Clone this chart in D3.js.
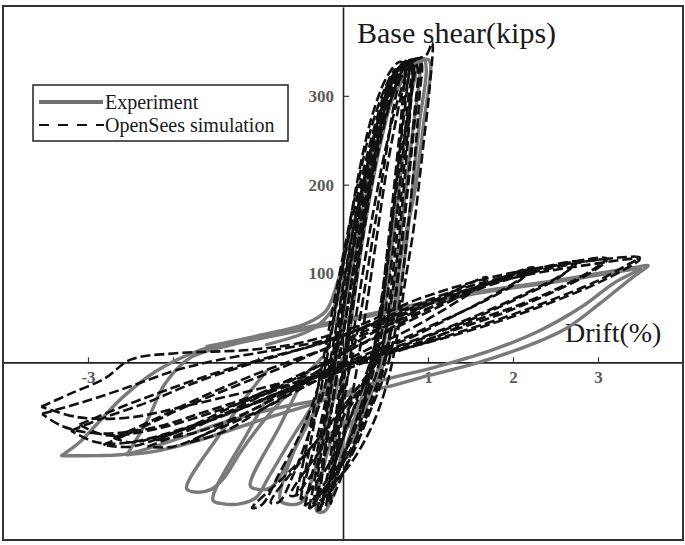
<!DOCTYPE html>
<html><head><meta charset="utf-8">
<script src="https://cdn.jsdelivr.net/npm/d3@7"></script>
<style>body{margin:0;background:#fff}svg{display:block}</style>
</head><body>
<svg id="c" width="685" height="545"></svg>
<script>
// ---- tick values / labels ----
const xTickValues = [-3, -2, -1, 1, 2, 3];
const xTickLabels = ["-3", "", "", "1", "2", "3"];
const yTickValues = [-100, 100, 200, 300];
const yTickLabels = ["", "100", "200", "300"];

// ---- Experiment (gray solid) : [drift %, base shear kips] ----
const expShallow1 = [[-3.31,-105],[-2.9,-105],[-2.54,-103],[-2.0,-88],[-1.45,-69],[-0.8,-52],[0.0,-38],[0.5,-28],[1.0,-15],[1.6,0],[2.24,21],[2.64,39],[3.02,66],[3.41,96],[3.59,109],[3.45,107],[3.0,100],[2.5,92],[1.5,78],[0.7,62],[0.0,48],[-0.4,40],[-1.0,28],[-1.7,13],[-2.2,-10],[-2.6,-40],[-2.9,-70],[-3.1,-90],[-3.31,-105]];
const expShallow2 = [[-2.54,-104],[-2.2,-100],[-1.6,-85],[-1.0,-66],[-0.3,-45],[0.4,-22],[1.1,-5],[1.7,12],[2.3,35],[2.8,62],[3.2,90],[3.5,106],[3.3,103],[2.6,92],[1.6,78],[0.7,60],[0.0,46],[-0.6,34],[-1.3,20],[-1.8,5],[-2.1,-25],[-2.3,-65],[-2.54,-104]];
const expFingerA = [[-0.9,-10],[-1.15,-40],[-1.42,-77],[-1.84,-142],[-1.74,-146],[-1.55,-143],[-1.4,-130],[-1.2,-100],[-0.9,-62],[-0.55,-25],[-0.25,5]];
const expFingerB = [[-0.8,-25],[-1.12,-79],[-1.53,-155],[-1.42,-159],[-1.2,-159],[-1.02,-152],[-0.88,-130],[-0.6,-85],[-0.3,-40],[-0.05,0]];
const expFingerC = [[-0.5,-25],[-0.74,-71],[-1.09,-139],[-1.0,-143],[-0.85,-141],[-0.72,-125],[-0.5,-85],[-0.25,-40],[0.0,5]];
const expFingerD = [[-0.4,-60],[-0.74,-155],[-0.62,-160],[-0.48,-157],[-0.36,-130],[-0.2,-75],[-0.05,-20]];
const expFingerE = [[-0.12,-80],[-0.31,-167],[-0.22,-168],[-0.12,-150],[0.0,-90],[0.1,-30]];
const expSteep1 = [[-0.2,-150],[-0.1,-90],[0.0,-20],[0.1,50],[0.25,150],[0.45,250],[0.6,305],[0.72,330],[0.8,338],[0.86,336],[0.8,300],[0.7,230],[0.6,150],[0.5,70],[0.35,0],[0.15,-60],[-0.05,-120],[-0.2,-150]];
const expSteep2 = [[-1.6,18],[-1.0,30],[-0.45,43],[-0.2,58],[-0.08,85],[0.05,130],[0.3,215],[0.5,280],[0.7,322],[0.85,338],[0.95,342],[0.98,330],[0.9,270],[0.8,180],[0.7,100],[0.55,30],[0.4,-15],[0.1,-60],[-0.3,-90]];
const expSteep3 = [[-0.9,20],[-0.35,38],[-0.12,60],[0.0,90],[0.15,140],[0.35,220],[0.6,300],[0.85,335],[1.0,341],[1.03,336],[0.95,270],[0.84,190],[0.69,123],[0.6,60],[0.5,5],[0.3,-40],[0.0,-80]];
const expSteep4 = [[-0.3,-120],[-0.15,-40],[-0.02,40],[0.12,110],[0.3,200],[0.5,275],[0.68,320],[0.8,335],[0.9,338],[0.9,320],[0.82,260],[0.72,180],[0.62,100],[0.5,30],[0.35,-30],[0.1,-90]];

// ---- OpenSees simulation (black dashed) ----
const simSteep1 = [[-0.2,-162],[-0.12,-110],[-0.04,-40],[0.05,30],[0.2,130],[0.35,220],[0.5,290],[0.62,325],[0.72,338],[0.77,336],[0.72,290],[0.62,200],[0.52,110],[0.42,30],[0.27,-30],[0.07,-90],[-0.08,-130],[-0.2,-162]];
const simSteep2 = [[-0.3,-168],[-0.22,-110],[-0.1,-30],[0.0,30],[0.15,120],[0.3,210],[0.45,280],[0.6,322],[0.75,338],[0.82,341],[0.8,300],[0.72,220],[0.62,130],[0.52,50],[0.4,-10],[0.2,-60],[0.0,-110],[-0.15,-145],[-0.3,-168]];
const simSteep3 = [[-0.45,-162],[-0.35,-120],[-0.2,-50],[-0.08,20],[0.08,110],[0.25,200],[0.42,270],[0.6,318],[0.8,338],[0.9,342],[0.88,310],[0.8,230],[0.7,140],[0.6,60],[0.48,0],[0.3,-50],[0.08,-100],[-0.2,-140],[-0.45,-162]];
const simSteep4 = [[-0.3,-150],[-0.2,-90],[-0.08,-20],[0.05,60],[0.25,170],[0.45,260],[0.65,315],[0.85,340],[0.98,346],[1.05,360],[1.02,310],[0.94,240],[0.83,150],[0.73,90],[0.62,20],[0.5,-30],[0.3,-80],[0.0,-125],[-0.3,-150]];
const simSteep5 = [[0.3,-20],[-0.15,-70],[-0.6,-120],[-1.07,-164],[-0.95,-160],[-0.75,-125],[-0.5,-80],[-0.3,-30],[-0.15,30],[0.0,110],[0.2,200],[0.4,275],[0.55,318],[0.7,336]];
const simSteep6 = [[0.4,0],[0.0,-50],[-0.4,-100],[-0.85,-158],[-0.75,-157],[-0.6,-130],[-0.4,-80],[-0.22,-30],[-0.08,40],[0.08,130],[0.28,220],[0.45,285],[0.6,325],[0.75,340]];
const simSteep7 = [[0.45,10],[0.15,-40],[-0.2,-90],[-0.62,-150],[-0.52,-148],[-0.38,-110],[-0.22,-50],[-0.1,20],[0.05,110],[0.2,190],[0.38,265],[0.55,315],[0.7,335],[0.8,340],[0.82,330],[0.78,270],[0.7,180],[0.6,90],[0.45,10]];
const simSteep8 = [[-0.27,-167],[-0.17,-120],[-0.07,-50],[0.02,10],[0.12,80],[0.27,170],[0.4,240],[0.55,300],[0.68,330],[0.78,340],[0.75,305],[0.67,240],[0.57,150],[0.47,70],[0.35,10],[0.15,-45],[-0.05,-100],[-0.27,-167]];
const simSteep9 = [[-0.35,-160],[-0.26,-105],[-0.15,-35],[-0.04,30],[0.1,120],[0.27,215],[0.45,285],[0.62,325],[0.74,338],[0.8,336],[0.76,290],[0.68,210],[0.58,120],[0.47,40],[0.33,-20],[0.12,-75],[-0.1,-125],[-0.35,-160]];
const simSteep10 = [[-0.5,-155],[-0.4,-100],[-0.27,-35],[-0.14,30],[0.02,120],[0.18,210],[0.35,280],[0.52,322],[0.66,338],[0.72,336],[0.7,295],[0.62,215],[0.52,125],[0.42,45],[0.28,-15],[0.05,-70],[-0.2,-120],[-0.5,-155]];
const simSteep11 = [[-0.4,-165],[-0.3,-115],[-0.17,-40],[-0.05,30],[0.12,125],[0.32,225],[0.52,295],[0.7,330],[0.86,342],[0.92,338],[0.9,300],[0.83,215],[0.74,130],[0.64,50],[0.52,-5],[0.32,-55],[0.1,-105],[-0.15,-145],[-0.4,-165]];
const simSteep12 = [[-0.15,-160],[-0.08,-100],[0.0,-30],[0.1,50],[0.25,150],[0.42,240],[0.58,300],[0.72,332],[0.84,340],[0.88,330],[0.84,280],[0.76,200],[0.66,110],[0.56,35],[0.44,-20],[0.24,-70],[0.02,-120],[-0.15,-160]];
const simSteep13 = [[-0.3,-150],[-0.18,-80],[-0.05,0],[0.1,90],[0.28,190],[0.45,265],[0.6,312],[0.7,330],[0.74,326],[0.66,290],[0.52,220],[0.38,130],[0.24,40],[0.1,-40],[-0.08,-110],[-0.3,-150]];
const simSteep14 = [[-0.1,-120],[0.02,-40],[0.15,50],[0.32,150],[0.5,240],[0.66,300],[0.78,330],[0.84,334],[0.8,300],[0.68,230],[0.55,140],[0.42,50],[0.28,-30],[0.1,-100],[-0.1,-120]];
const simSteep15 = [[-0.55,-150],[-0.42,-90],[-0.3,-30],[-0.18,30],[-0.02,110],[0.15,190],[0.32,260],[0.5,310],[0.62,330],[0.66,325],[0.58,280],[0.45,200],[0.3,110],[0.18,40],[0.02,-30],[-0.2,-100],[-0.55,-150]];
const simShallow1 = [[-3.55,-50],[-3.2,-35],[-2.8,-18],[-2.5,3],[-2.0,10],[-1.1,14],[-0.5,22],[0.2,42],[0.85,70],[1.85,98],[2.8,113],[3.49,118],[3.35,110],[3.0,92],[2.5,72],[2.0,54],[1.4,35],[0.9,20],[0.3,5],[-0.3,-12],[-1.0,-30],[-1.8,-48],[-2.5,-62],[-3.1,-62],[-3.55,-50]];
const simShallow2 = [[-3.54,-58],[-3.0,-43],[-2.5,-27],[-2.0,-10],[-1.5,2],[-0.8,14],[-0.2,25],[0.4,45],[1.0,68],[2.0,95],[2.9,110],[3.49,116],[3.3,104],[2.9,85],[2.3,62],[1.7,42],[1.1,25],[0.5,10],[-0.1,-8],[-0.8,-30],[-1.6,-55],[-2.3,-75],[-2.9,-80],[-3.3,-72],[-3.54,-58]];
const simShallow3 = [[-3.2,-77],[-2.8,-62],[-2.3,-45],[-1.8,-25],[-1.2,-5],[-0.6,12],[0.0,30],[0.6,55],[1.3,80],[2.2,103],[3.1,117],[2.95,105],[2.5,82],[2.0,62],[1.46,44],[0.94,22],[0.4,5],[-0.3,-20],[-1.0,-45],[-1.8,-72],[-2.5,-90],[-2.9,-90],[-3.2,-77]];
const simShallow4 = [[-2.82,-93],[-2.4,-75],[-1.9,-52],[-1.3,-28],[-0.7,-5],[-0.1,20],[0.5,45],[1.2,72],[2.0,98],[2.75,113],[2.6,100],[2.2,80],[1.7,58],[1.2,38],[0.7,20],[0.1,0],[-0.6,-28],[-1.3,-55],[-2.0,-80],[-2.5,-95],[-2.82,-93]];
const simShallow5 = [[-2.3,-95],[-1.9,-80],[-1.4,-58],[-0.8,-30],[-0.2,0],[0.4,30],[1.0,60],[1.6,85],[2.24,107],[2.1,95],[1.7,72],[1.26,50],[0.8,28],[0.3,8],[-0.3,-20],[-1.0,-55],[-1.6,-80],[-2.0,-95],[-2.3,-95]];
const simShallow6 = [[-1.8,-90],[-1.3,-65],[-0.8,-40],[-0.3,-10],[0.2,25],[0.8,55],[1.3,80],[1.69,96],[1.55,82],[1.2,60],[0.8,38],[0.3,15],[-0.3,-15],[-0.9,-50],[-1.4,-78],[-1.8,-90]];
const simShallow7 = [[-3.1,-70],[-2.6,-50],[-2.1,-32],[-1.5,-12],[-0.9,5],[-0.3,20],[0.3,40],[0.9,62],[1.6,85],[2.4,105],[3.1,115],[2.9,100],[2.4,76],[1.9,56],[1.3,36],[0.7,16],[0.1,-2],[-0.6,-25],[-1.4,-52],[-2.2,-75],[-2.8,-82],[-3.1,-70]];
const simShallow8 = [[-2.7,-85],[-2.3,-68],[-1.8,-45],[-1.2,-20],[-0.6,2],[0.0,22],[0.6,45],[1.3,72],[2.0,95],[2.7,110],[2.55,96],[2.1,74],[1.6,52],[1.1,33],[0.6,15],[0.0,-5],[-0.7,-32],[-1.4,-60],[-2.1,-82],[-2.5,-90],[-2.7,-85]];
const simShallow9 = [[-2.2,-88],[-1.7,-68],[-1.2,-45],[-0.6,-18],[0.0,10],[0.6,38],[1.2,66],[1.7,88],[2.2,104],[2.05,90],[1.6,66],[1.1,44],[0.6,22],[0.1,2],[-0.5,-25],[-1.1,-55],[-1.7,-78],[-2.2,-88]];

const experimentSeries = [expShallow1, expShallow2, expFingerA, expFingerB, expFingerC, expFingerD, expFingerE, expSteep1, expSteep2, expSteep3, expSteep4];
const simulationSeries = [simShallow1, simShallow2, simShallow3, simShallow4, simShallow5, simShallow6, simShallow7, simShallow8, simShallow9,
  simSteep1, simSteep2, simSteep3, simSteep4, simSteep5, simSteep6, simSteep7, simSteep8, simSteep9, simSteep10, simSteep11, simSteep12,
  simSteep13, simSteep14, simSteep15];

const legendItems = ["Experiment", "OpenSees simulation"];

// ---- drawing ----
const W = 685, H = 545;
const svg = d3.select("#c");
svg.append("rect").attr("width", W).attr("height", H).attr("fill", "#fff");

const x = d3.scaleLinear().domain([-4, 4]).range([3, 683]);
const y = d3.scaleLinear().domain([-200, 400]).range([540, 7]);
const serif = "'Liberation Serif','Times New Roman',Times,serif";

const gx = svg.append("g").attr("transform", `translate(0,${y(0)})`)
  .call(d3.axisBottom(x).tickValues(xTickValues).tickSize(-5).tickSizeOuter(0).tickPadding(9)
    .tickFormat((d, i) => xTickLabels[i]));
const gy = svg.append("g").attr("transform", `translate(${x(0)},0)`)
  .call(d3.axisLeft(y).tickValues(yTickValues).tickSize(-6).tickSizeOuter(0).tickPadding(9)
    .tickFormat((d, i) => yTickLabels[i]));
[gx, gy].forEach(g => {
  g.select(".domain").attr("stroke", "#222").attr("stroke-width", 1.6);
  g.selectAll(".tick line").attr("stroke", "#333").attr("stroke-width", 1.2);
  g.selectAll(".tick text").attr("font-family", serif).attr("font-size", 17)
    .attr("font-weight", "bold").attr("fill", "#5a5a5a");
});

svg.append("text").attr("x", 357).attr("y", 43).attr("font-family", serif)
  .attr("font-size", 30).attr("fill", "#1a1a1a").text("Base shear(kips)");
svg.append("text").attr("x", 565).attr("y", 342).attr("font-family", serif)
  .attr("font-size", 28).attr("fill", "#1a1a1a").text("Drift(%)");

const line = d3.line().x(d => x(d[0])).y(d => y(d[1])).curve(d3.curveCatmullRom.alpha(0.5));

svg.append("g").selectAll("path").data(experimentSeries).join("path")
  .attr("d", line).attr("fill", "none").attr("stroke", "#7a7a7a")
  .attr("stroke-width", 3.4).attr("stroke-linejoin", "round").attr("stroke-linecap", "round");

svg.append("g").selectAll("path").data(simulationSeries).join("path")
  .attr("d", line).attr("fill", "none").attr("stroke", "#111")
  .attr("stroke-width", 2.6).attr("stroke-dasharray", "10,4").attr("stroke-linejoin", "round");

svg.append("rect").attr("x", 3).attr("y", 6).attr("width", 680).attr("height", 534)
  .attr("fill", "none").attr("stroke", "#333").attr("stroke-width", 2);

const lg = svg.append("g");
lg.append("rect").attr("x", 33).attr("y", 85).attr("width", 255).attr("height", 56)
  .attr("fill", "#fff").attr("stroke", "#222").attr("stroke-width", 1.5);
lg.append("line").attr("x1", 39).attr("x2", 103).attr("y1", 102).attr("y2", 102)
  .attr("stroke", "#707070").attr("stroke-width", 4);
lg.append("line").attr("x1", 39).attr("x2", 104).attr("y1", 125).attr("y2", 125)
  .attr("stroke", "#111").attr("stroke-width", 2).attr("stroke-dasharray", "10,9");
lg.selectAll("text.lab").data(legendItems).join("text").attr("class", "lab")
  .attr("x", 105).attr("y", (d, i) => 109 + i * 23).attr("font-family", serif)
  .attr("font-size", 20).attr("fill", "#1a1a1a").text(d => d);
</script>
</body></html>
